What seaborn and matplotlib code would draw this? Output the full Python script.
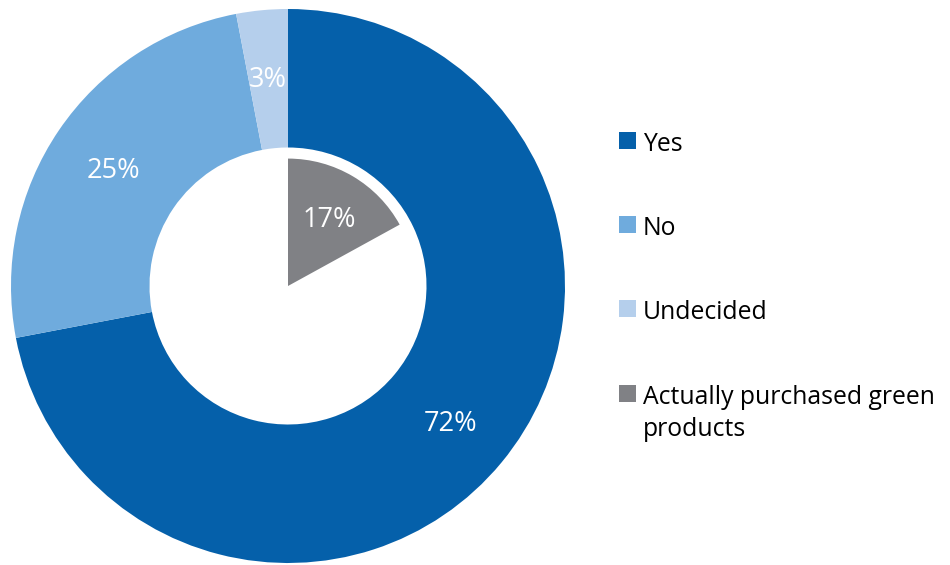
import matplotlib
matplotlib.use("Agg")
import matplotlib.pyplot as plt
import seaborn as sns

# data
ring_labels = ["Yes", "No", "Undecided"]
ring_values = [72, 25, 3]
ring_colors = ["#0560AA", "#6FABDD", "#B5CFEC"]

inner_label = "Actually purchased green\nproducts"
inner_values = [17, 83]
inner_colors = ["#808185", "none"]

sns.set_theme(style="white")
plt.rcParams["font.family"] = ["Open Sans", "DejaVu Sans"]

fig = plt.figure(figsize=(9.5, 5.65), dpi=100)
# square axes so radius 1 = 277 px, centre at (288, 286) px
ax = fig.add_axes([11 / 950, 2 / 565, 554 / 950, 554 / 565])

pct_style = {"color": "white", "fontsize": 19.5, "va": "center_baseline"}

wedges, _, ring_txt = ax.pie(
    ring_values, colors=ring_colors, startangle=90, counterclock=False,
    radius=1.0, autopct="%1.0f%%", pctdistance=0.76,
    wedgeprops={"width": 0.5, "linewidth": 0}, textprops=pct_style)

inner, _, inner_txt = ax.pie(
    inner_values, colors=inner_colors, startangle=90, counterclock=False,
    radius=0.46, autopct=lambda p: f"{p:.0f}%" if p < 50 else "",
    pctdistance=0.63, wedgeprops={"linewidth": 0}, textprops=pct_style)

ax.set_xlim(-1, 1)
ax.set_ylim(-1, 1)
ax.set_aspect("equal")
ax.axis("off")

leg = fig.legend(wedges + [inner[0]], ring_labels + [inner_label],
                 loc="center left", bbox_to_anchor=(619 / 950, 1 - 287 / 565),
                 frameon=False, fontsize=17.8, borderpad=0, borderaxespad=0,
                 handlelength=0.67, handleheight=0.67, handletextpad=0.3,
                 labelspacing=2.4)
for t in leg.get_texts():
    t.set_color("black")
    t.set_linespacing(1.4)
# marker sits next to the first line of a wrapped label
for col in leg._legend_handle_box.get_children():
    for row in col.get_children():
        row.align = "top"

fig.savefig("out.png", dpi=100)
